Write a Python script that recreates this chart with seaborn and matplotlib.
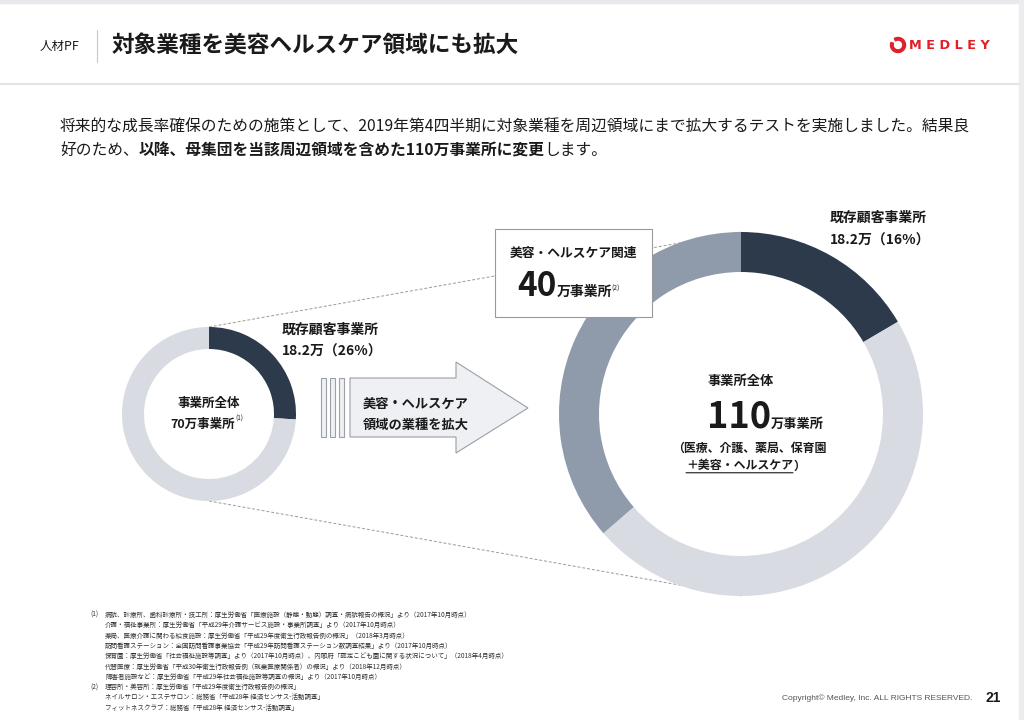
import matplotlib
matplotlib.use("Agg")  # headless mode (no GUI)

import matplotlib.pyplot as plt
import seaborn as sns
from matplotlib.patches import Polygon, Rectangle, Wedge

# data
small_segments = ["既存顧客事業所", "その他"]
small_values = [18.2, 51.8]          # 70万事業所
big_segments = ["既存顧客事業所", "その他", "美容・ヘルスケア関連"]
big_values = [18.2, 51.8, 40.0]      # 110万事業所
small_colors = ["#2d3a4c", "#d8dbe1"]
big_colors = ["#2d3a4c", "#d8dbe1", "#8f9aab"]

body_line1 = "将来的な成長率確保のための施策として、2019年第4四半期に対象業種を周辺領域にまで拡大するテストを実施しました。結果良"
body_line2a = "好のため、"
body_line2b = "以降、母集団を当該周辺領域を含めた110万事業所に変更"
body_line2c = "します。"

footnotes = [
    "病院、診療所、歯科診療所・技工所：厚生労働省「医療施設（静態・動態）調査・病院報告の概況」より（2017年10月時点）",
    "介護・福祉事業所：厚生労働省「平成29年介護サービス施設・事業所調査」より（2017年10月時点）",
    "薬局、医療介護に関わる給食施設：厚生労働省「平成29年度衛生行政報告例の概況」（2018年3月時点）",
    "訪問看護ステーション：全国訪問看護事業協会「平成29年訪問看護ステーション数調査結果」より（2017年10月時点）",
    "保育園：厚生労働省「社会福祉施設等調査」より（2017年10月時点）、内閣府「認定こども園に関する状況について」（2018年4月時点）",
    "代替医療：厚生労働省「平成30年衛生行政報告例（就業医療関係者）の概況」より（2018年12月時点）",
    "障害者施設など：厚生労働省「平成29年社会福祉施設等調査の概況」より（2017年10月時点）",
    "理容所・美容所：厚生労働省「平成29年度衛生行政報告例の概況」",
    "ネイルサロン・エステサロン：総務省「平成28年 経済センサス-活動調査」",
    "フィットネスクラブ：総務省「平成28年 経済センサス-活動調査」",
]
footnote_marks = ["(1)", "", "", "", "", "", "", "(2)", "", ""]

sns.set_theme(style="white")
plt.rcParams["font.family"] = ["Noto Sans CJK JP", "DejaVu Sans"]

TXT = "#1a1a1a"
fig = plt.figure(figsize=(10.24, 7.2), dpi=100)
ax = fig.add_axes([0, 0, 1, 1])

# donuts (y axis is inverted later, so counterclock=True draws clockwise on screen)
ax.pie(small_values, colors=small_colors, radius=87, center=(209, 414),
       startangle=-90, counterclock=True,
       wedgeprops=dict(width=22, linewidth=0, zorder=3))
ax.pie(big_values, colors=big_colors, radius=182, center=(741, 414),
       startangle=-90, counterclock=True,
       wedgeprops=dict(width=40, linewidth=0, zorder=3))

ax.set_xlim(0, 1024)
ax.set_ylim(720, 0)
ax.set_aspect("auto")
ax.axis("off")

# page frame / header
ax.add_patch(Rectangle((0, 0), 1024, 3, color="#e8e9ec", zorder=1))
ax.add_patch(Rectangle((1019, 0), 5, 720, color="#ececef", zorder=1))
ax.plot([0, 1019], [84, 84], color="#e3e4e8", lw=1.6, zorder=1)
ax.plot([97, 97], [30, 62], color="#c8c8c8", lw=0.8)
ax.text(40, 46, "人材PF", fontsize=9, color=TXT, va="center")
ax.text(112, 46, "対象業種を美容ヘルスケア領域にも拡大", fontsize=16.3, fontweight="bold",
        color=TXT, va="center")
ax.add_patch(Wedge((898, 45), 7.5, 240, 560, width=2.6, color="#e0202a"))
ax.text(909, 45.5, "M E D L E Y", fontsize=9.3, fontweight="bold", color="#e0202a",
        va="center", family=["DejaVu Sans"])

# body text
ax.text(60, 127, body_line1, fontsize=11.35, color=TXT, va="center")
t1 = ax.text(60, 150, body_line2a, fontsize=11.35, color=TXT, va="center")
t2 = ax.annotate(body_line2b, xy=(1, 0), xycoords=t1, va="bottom", ha="left",
                 fontsize=11.35, fontweight="bold", color=TXT)
ax.annotate(body_line2c, xy=(1, 0), xycoords=t2, va="bottom", ha="left",
            fontsize=11.35, color=TXT)

# dashed connector lines
ax.plot([209, 741], [327, 232], ls=(0, (3, 2)), color="#9a9a9a", lw=0.7, zorder=2)
ax.plot([209, 741], [501, 596], ls=(0, (3, 2)), color="#9a9a9a", lw=0.7, zorder=2)

# small donut labels
ax.text(209, 403, "事業所全体", fontsize=9, fontweight="bold", color=TXT, ha="center", va="center")
s1 = ax.text(203, 424, "70万事業所", fontsize=9, fontweight="bold", color=TXT, ha="center", va="center")
ax.annotate("(1)", xy=(1, 0.6), xycoords=s1, fontsize=4.5, color=TXT, va="bottom")
ax.text(282, 330, "既存顧客事業所", fontsize=10, fontweight="bold", color=TXT, va="center")
ax.text(282, 352, "18.2万（26%）", fontsize=10, fontweight="bold", color=TXT, va="center")

# arrow
for x0 in [321, 330, 339]:
    ax.add_patch(Rectangle((x0, 378), 5, 59, facecolor="#eef0f3", edgecolor="#9aa0a8", lw=0.8, zorder=2))
arrow_pts = [(350, 378), (456, 378), (456, 362), (528, 408), (456, 453), (456, 437), (350, 437)]
ax.add_patch(Polygon(arrow_pts, closed=True, facecolor="#eef0f3", edgecolor="#9aa0a8", lw=0.8, zorder=2))
ax.text(363, 404, "美容・ヘルスケア", fontsize=9.5, fontweight="bold", color=TXT, va="center", zorder=4)
ax.text(363, 425, "領域の業種を拡大", fontsize=9.5, fontweight="bold", color=TXT, va="center", zorder=4)

# 40万 box
ax.add_patch(Rectangle((495, 229), 157, 88, facecolor="white", edgecolor="#9a9a9a", lw=0.8, zorder=5))
ax.text(573, 253, "美容・ヘルスケア関連", fontsize=9.2, fontweight="bold", color=TXT,
        ha="center", va="center", zorder=6)
b1 = ax.text(517, 296, "40", fontsize=24, fontweight="bold", color=TXT, va="baseline", zorder=6)
b2 = ax.annotate("万事業所", xy=(1, 0.22), xycoords=b1, fontsize=10, fontweight="bold",
                 color=TXT, va="baseline", zorder=6)
ax.annotate("(2)", xy=(1, 0.45), xycoords=b2, fontsize=5, color=TXT, va="bottom", zorder=6)

# big donut labels
ax.text(830, 218, "既存顧客事業所", fontsize=10, fontweight="bold", color=TXT, va="center")
ax.text(830, 241, "18.2万（16%）", fontsize=10, fontweight="bold", color=TXT, va="center")
ax.text(741, 381, "事業所全体", fontsize=9.5, fontweight="bold", color=TXT, ha="center", va="center")
c1 = ax.text(707, 427, "110", fontsize=26, fontweight="bold", color=TXT, va="baseline")
ax.annotate("万事業所", xy=(1, 0.2), xycoords=c1, fontsize=9.5, fontweight="bold",
            color=TXT, va="baseline")
ax.text(749, 448, "（医療、介護、薬局、保育園", fontsize=8.6, fontweight="bold", color=TXT,
        ha="center", va="center")
u1 = ax.text(686, 466, "＋美容・ヘルスケア", fontsize=8.6, fontweight="bold", color=TXT,
             ha="left", va="center")
ax.annotate("）", xy=(1, 0), xycoords=u1, fontsize=8.6, fontweight="bold", color=TXT,
            ha="left", va="bottom")
ax.annotate("", xy=(1, -0.02), xycoords=u1, xytext=(0, -0.02), textcoords=u1,
            arrowprops=dict(arrowstyle="-", color=TXT, lw=0.8, shrinkA=0, shrinkB=0))

# footnotes
for i, (mark, line) in enumerate(zip(footnote_marks, footnotes)):
    y = 615 + i * 10.3
    if mark:
        ax.text(90, y, mark, fontsize=4.7, color="#333333", va="center")
    ax.text(105, y, line, fontsize=4.7, color="#333333", va="center")

# footer
ax.text(972, 698, "Copyright© Medley, Inc. ALL RIGHTS RESERVED.", fontsize=6,
        color="#555555", ha="right", va="center", family=["Liberation Sans", "DejaVu Sans"])
ax.text(986, 698, "21", fontsize=10, fontweight="bold", color=TXT, va="center",
        family=["Liberation Sans", "DejaVu Sans"])

plt.savefig("out.png", dpi=100)
